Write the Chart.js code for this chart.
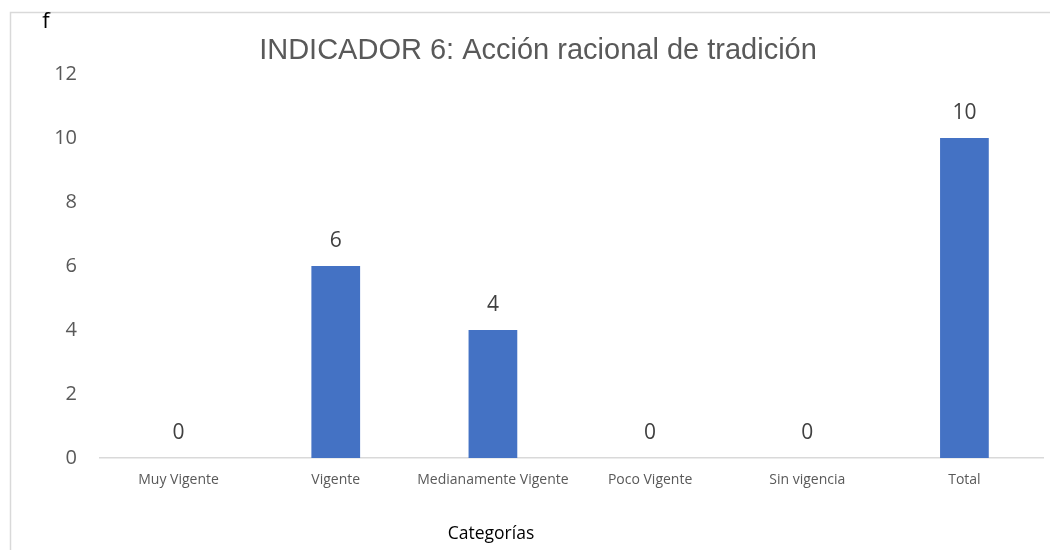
<!DOCTYPE html>
<html>
<head>
<meta charset="utf-8">
<script src="https://cdn.jsdelivr.net/npm/chart.js@4/dist/chart.umd.min.js"></script>
<style>
  html, body { margin: 0; padding: 0; background: #fff; }
  #wrap { width: 1050px; height: 550px; position: relative; }
</style>
</head>
<body>
<div id="wrap"><canvas id="chart"></canvas></div>
<script>
const categories = ['Muy Vigente', 'Vigente', 'Medianamente Vigente', 'Poco Vigente', 'Sin vigencia', 'Total'];
const values = [0, 6, 4, 0, 0, 10];
const chartTitle = 'INDICADOR 6: Acción racional de tradición';
const yLabel = 'f';
const xLabel = 'Categorías';

// marco, títulos y etiquetas de valores
const extras = {
    id: 'extras',
    afterDraw(chart) {
        const { ctx } = chart;
        ctx.save();
        ctx.strokeStyle = '#d9d9d9';
        ctx.lineWidth = 1.5;
        ctx.beginPath();
        ctx.moveTo(10.5, 550);
        ctx.lineTo(10.5, 12.5);
        ctx.lineTo(1050, 12.5);
        ctx.stroke();

        ctx.textAlign = 'center';
        ctx.textBaseline = 'middle';
        ctx.fillStyle = '#595959';
        ctx.font = '29px "Liberation Sans", Arial, sans-serif';
        ctx.fillText(chartTitle, 538, 51);

        ctx.fillStyle = '#000';
        ctx.font = '22px "Open Sans", sans-serif';
        ctx.fillText(yLabel, 46, 22);

        ctx.font = '17.5px "Open Sans", sans-serif';
        ctx.fillText(xLabel, 491, 534);

        const meta = chart.getDatasetMeta(0);
        ctx.fillStyle = '#404040';
        ctx.font = '21px "Open Sans", sans-serif';
        meta.data.forEach((bar, i) => {
            ctx.fillText(String(values[i]), bar.x, bar.y - 25);
        });
        ctx.restore();
    }
};

new Chart(document.getElementById('chart'), {
    type: 'bar',
    data: {
        labels: categories,
        datasets: [{
            data: values,
            backgroundColor: '#4472C4',
            categoryPercentage: 1,
            barPercentage: 0.31
        }]
    },
    options: {
        responsive: true,
        maintainAspectRatio: false,
        animation: false,
        layout: { padding: { top: 74, right: 7, left: 0, bottom: 0 } },
        plugins: {
            legend: { display: false },
            title: { display: false },
            tooltip: { enabled: false }
        },
        scales: {
            y: {
                min: 0,
                max: 12,
                ticks: {
                    stepSize: 2,
                    padding: 23,
                    color: '#595959',
                    font: { family: '"Open Sans", sans-serif', size: 20 }
                },
                grid: { display: false, drawTicks: false },
                border: { display: false },
                afterFit(scale) { scale.width = 100; }
            },
            x: {
                ticks: {
                    padding: 14,
                    color: '#595959',
                    maxRotation: 0,
                    autoSkip: false,
                    font: { family: '"Open Sans", sans-serif', size: 14 }
                },
                grid: { display: false, drawTicks: false },
                border: { display: true, color: '#d9d9d9', width: 1.5 },
                afterFit(scale) { scale.height = 92; }
            }
        }
    },
    plugins: [extras]
});
</script>
</body>
</html>
